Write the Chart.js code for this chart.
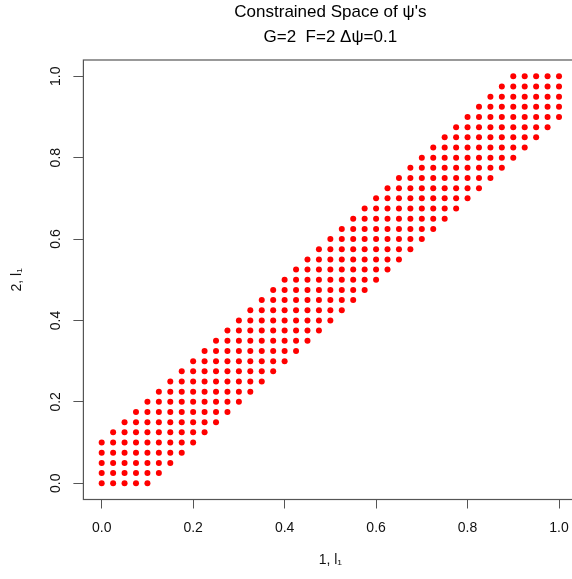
<!DOCTYPE html>
<html>
<head>
<meta charset="utf-8">
<script src="https://cdn.jsdelivr.net/npm/chart.js@4.4.1/dist/chart.umd.min.js"></script>
<style>
    html, body { margin: 0; padding: 0; background: #fff; overflow: hidden; }
    #wrap { width: 600px; height: 579px; }
</style>
</head>
<body>
<div id="wrap"><canvas id="psi-chart" width="600" height="579"></canvas></div>
<script>
'use strict';

// grid of psi values (step 0.025)
const psiLevels = [
    0, 0.025, 0.05, 0.075, 0.1, 0.125, 0.15, 0.175, 0.2, 0.225,
    0.25, 0.275, 0.3, 0.325, 0.35, 0.375, 0.4, 0.425, 0.45, 0.475,
    0.5, 0.525, 0.55, 0.575, 0.6, 0.625, 0.65, 0.675, 0.7, 0.725,
    0.75, 0.775, 0.8, 0.825, 0.85, 0.875, 0.9, 0.925, 0.95, 0.975, 1
];

// for each row (psi 2 = psiLevels[i]) the first and last psi 1 that is drawn
const bandFrom = [
    0, 0, 0, 0, 0, 0.025, 0.05, 0.075, 0.1, 0.125,
    0.15, 0.175, 0.2, 0.225, 0.25, 0.275, 0.3, 0.325, 0.35, 0.375,
    0.4, 0.425, 0.45, 0.475, 0.5, 0.525, 0.55, 0.575, 0.6, 0.625,
    0.65, 0.675, 0.7, 0.725, 0.75, 0.775, 0.8, 0.825, 0.85, 0.875, 0.9
];
const bandTo = [
    0.1, 0.125, 0.15, 0.175, 0.2, 0.225, 0.25, 0.275, 0.3, 0.325,
    0.35, 0.375, 0.4, 0.425, 0.45, 0.475, 0.5, 0.525, 0.55, 0.575,
    0.6, 0.625, 0.65, 0.675, 0.7, 0.725, 0.75, 0.775, 0.8, 0.825,
    0.85, 0.875, 0.9, 0.925, 0.95, 0.975, 1, 1, 1, 1, 1
];

const xTickValues = [0, 0.2, 0.4, 0.6, 0.8, 1.0];
const yTickValues = [0, 0.2, 0.4, 0.6, 0.8, 1.0];

const titleLines = ["Constrained Space of \u03c8's", 'G=2  F=2 \u0394\u03c8=0.1'];
const xTitle = '1, l\u2081';
const yTitle = '2, l\u2081';

const FONT = "'Liberation Sans', Arial, Helvetica, sans-serif";
const LINE = '#555';
const TEXT = '#111';


function buildPoints() {
    const pts = [];
    psiLevels.forEach((y, i) => {
        psiLevels.forEach(x => {
            if (x >= bandFrom[i] - 1e-9 && x <= bandTo[i] + 1e-9) {
                pts.push({ x: x, y: y });
            }
        });
    });
    return pts;
}

// box round the plot area + vertical y tick labels (R style)
const rFrame = {
    id: 'rFrame',
    afterDraw(chart) {
        const { ctx, chartArea } = chart;
        ctx.save();
        ctx.strokeStyle = LINE;
        ctx.lineWidth = 1.2;
        ctx.strokeRect(chartArea.left, chartArea.top,
            chartArea.right - chartArea.left, chartArea.bottom - chartArea.top);

        const ys = chart.scales.y;
        ctx.fillStyle = TEXT;
        ctx.font = '14px ' + FONT;
        ctx.textAlign = 'center';
        ctx.textBaseline = 'middle';
        yTickValues.forEach(v => {
            const py = ys.getPixelForValue(v);
            ctx.save();
            ctx.translate(ys.right - 27, py);
            ctx.rotate(-Math.PI / 2);
            ctx.fillText(v.toFixed(1), 0, 0);
            ctx.restore();
        });
        ctx.restore();
    }
};

function createPsiChart() {
    const ctx = document.getElementById('psi-chart').getContext('2d');

    new Chart(ctx, {
        type: 'scatter',
        data: {
            datasets: [{
                data: buildPoints(),
                backgroundColor: '#ff0000',
                borderWidth: 0,
                pointRadius: 3,
                pointHoverRadius: 3
            }]
        },
        options: {
            responsive: false,
            animation: false,
            devicePixelRatio: 1,
            layout: { padding: { right: 22.7 } },
            plugins: {
                legend: { display: false },
                tooltip: { enabled: false },
                title: {
                    display: true,
                    fullSize: false,
                    text: titleLines,
                    color: '#000',
                    font: { family: FONT, size: 17, weight: 'normal', lineHeight: 25 / 17 },
                    padding: { top: 0, bottom: 10 }
                }
            },
            scales: {
                x: {
                    type: 'linear',
                    min: -0.04,
                    max: 1.04,
                    afterBuildTicks: s => { s.ticks = xTickValues.map(v => ({ value: v })); },
                    afterFit: s => { s.height = 79.5; },
                    grid: { drawOnChartArea: false, drawTicks: true, tickLength: 9, color: LINE },
                    border: { display: true, color: LINE, width: 1 },
                    ticks: {
                        color: TEXT,
                        padding: 11,
                        maxRotation: 0,
                        font: { family: FONT, size: 14 },
                        callback: v => v.toFixed(1)
                    },
                    title: {
                        display: true,
                        text: xTitle,
                        color: TEXT,
                        font: { family: FONT, size: 14 },
                        padding: { top: 0, bottom: 10.6 }
                    }
                },
                y: {
                    type: 'linear',
                    min: -0.04,
                    max: 1.04,
                    afterBuildTicks: s => { s.ticks = yTickValues.map(v => ({ value: v })); },
                    afterFit: s => { s.width = 83.4; },
                    grid: { drawOnChartArea: false, drawTicks: true, tickLength: 10, color: LINE },
                    border: { display: true, color: LINE, width: 1 },
                    ticks: { display: false },
                    title: {
                        display: true,
                        text: yTitle,
                        color: TEXT,
                        font: { family: FONT, size: 14 },
                        padding: { top: 9, bottom: 0 }
                    }
                }
            }
        },
        plugins: [rFrame]
    });
}

createPsiChart();
</script>
</body>
</html>
